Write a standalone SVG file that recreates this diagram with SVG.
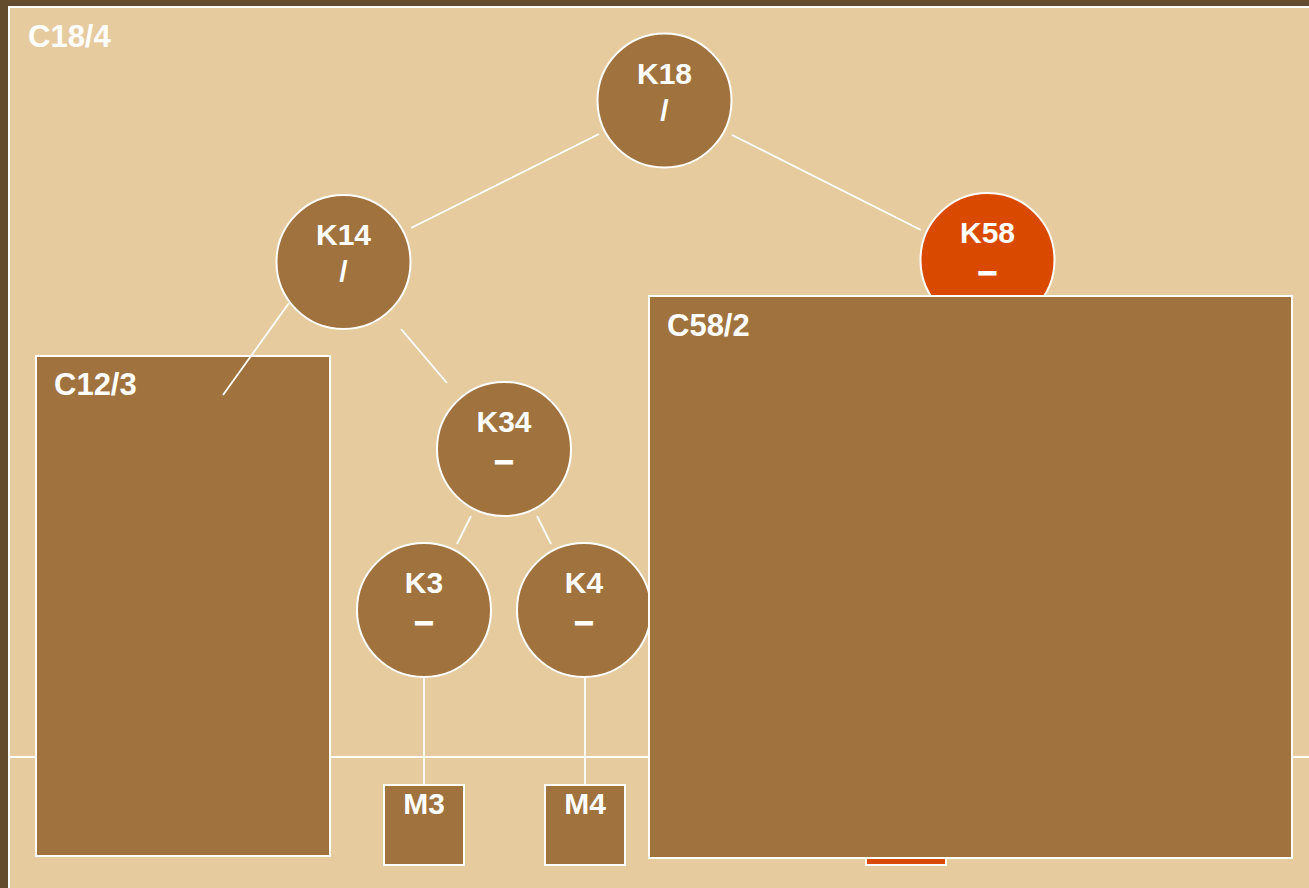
<svg xmlns="http://www.w3.org/2000/svg" width="1309" height="888" viewBox="0 0 1309 888">
<style>
.box{fill:#a0723e;stroke:#ffffff;stroke-width:2}
.node{fill:#a0723e;stroke:#ffffff;stroke-width:2}
.hot{fill:#d94a00;stroke:#ffffff;stroke-width:2}
.edge{stroke:#ffffff;stroke-width:1.8;fill:none}
text{font-family:"Liberation Sans",Arial,sans-serif;font-weight:bold;fill:#ffffff;font-size:30px}
.lbl{font-size:31px}
.d{font-size:34px;stroke:#ffffff;stroke-width:1.2}
.c{text-anchor:middle}
</style>
<rect x="0" y="0" width="1309" height="888" fill="#634c2e"/>
<g id="C18">
<rect x="9" y="7" width="1310" height="890" fill="#e6cb9f" stroke="#ffffff" stroke-width="2"/>
<text class="lbl" x="28" y="47">C18/4</text>
</g>
<line x1="10" y1="757" x2="1309" y2="757" stroke="#ffffff" stroke-width="2"/>
<g id="C12">
<rect class="box" x="36" y="356" width="294" height="500"/>
<text class="lbl" x="54" y="395">C12/3</text>
</g>
<g id="connectors">
<line class="edge" x1="599" y1="134" x2="411" y2="228"/>
<line class="edge" x1="732" y1="135" x2="921" y2="230"/>
<line class="edge" x1="289" y1="303" x2="223" y2="395"/>
<line class="edge" x1="401" y1="329" x2="447" y2="383"/>
<line class="edge" x1="471" y1="516" x2="457" y2="544"/>
<line class="edge" x1="537" y1="516" x2="551" y2="544"/>
<line class="edge" x1="424" y1="677" x2="424" y2="785"/>
<line class="edge" x1="585" y1="677" x2="585" y2="785"/>
</g>
<g id="K18">
<circle class="node" cx="664.5" cy="100.5" r="67"/>
<text class="c" x="664.5" y="84">K18</text>
<text class="c" x="664.5" y="121">/</text>
</g>
<g id="K14">
<circle class="node" cx="343.5" cy="262" r="67"/>
<text class="c" x="343.5" y="245">K14</text>
<text class="c" x="343.5" y="282">/</text>
</g>
<g id="K58">
<circle class="hot" cx="987.5" cy="260" r="67"/>
<text class="c" x="987.5" y="243">K58</text>
<text class="c d" x="987.5" y="282">–</text>
</g>
<g id="K34">
<circle class="node" cx="504" cy="449" r="67"/>
<text class="c" x="504" y="432">K34</text>
<text class="c d" x="504" y="471">–</text>
</g>
<g id="K3">
<circle class="node" cx="424" cy="610" r="67"/>
<text class="c" x="424" y="593">K3</text>
<text class="c d" x="424" y="632">–</text>
</g>
<g id="K4">
<circle class="node" cx="584" cy="610" r="67"/>
<text class="c" x="584" y="593">K4</text>
<text class="c d" x="584" y="632">–</text>
</g>
<g id="M3">
<rect class="box" x="384" y="785" width="80" height="80"/>
<text class="c" x="424" y="814">M3</text>
</g>
<g id="M4">
<rect class="box" x="545" y="785" width="80" height="80"/>
<text class="c" x="585" y="814">M4</text>
</g>
<g id="M58">
<rect class="hot" x="866" y="785" width="80" height="80"/>
</g>
<g id="C58">
<rect class="box" x="649" y="296" width="643" height="562"/>
<text class="lbl" x="667" y="336">C58/2</text>
</g>
</svg>
